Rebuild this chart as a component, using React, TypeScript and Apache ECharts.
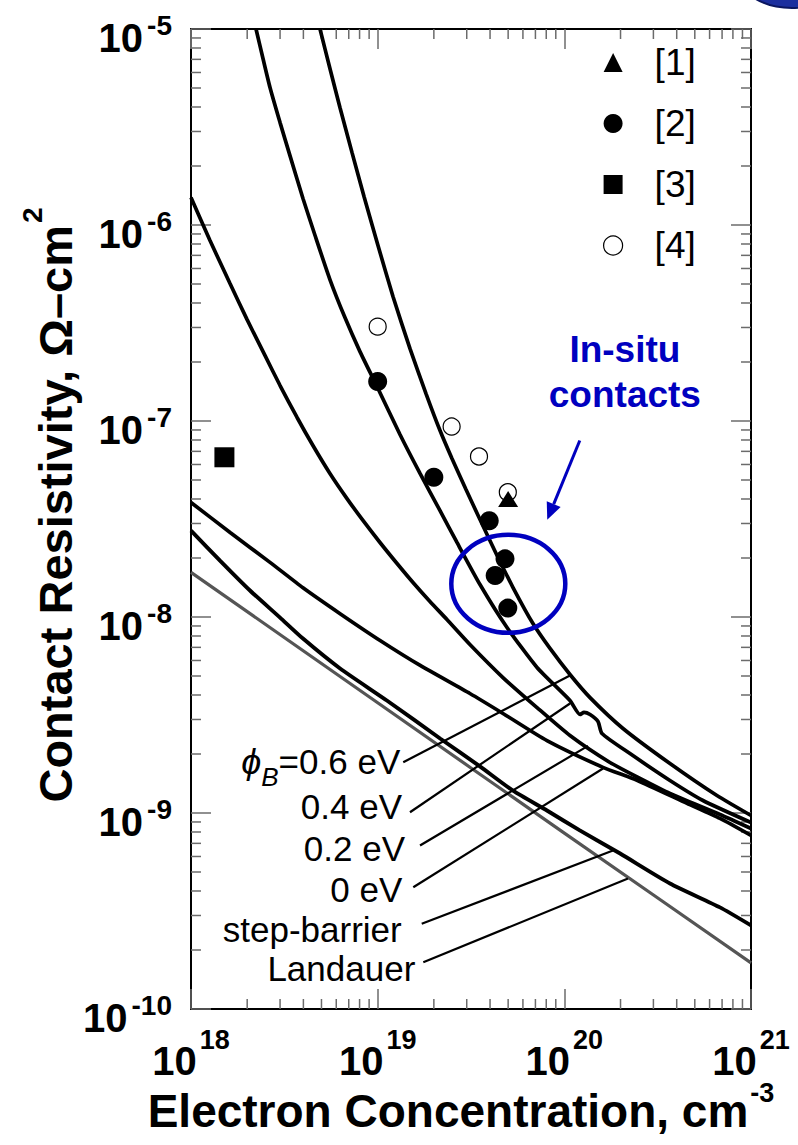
import React, { useEffect, useRef } from 'react';
import * as echarts from 'echarts';

const FONT = "'Liberation Sans', Arial, Helvetica, sans-serif";
const BLUE = '#0000BF';
const TICK = '#6b6b6b';

const X_MIN = 1e18;
const X_MAX = 1e21;
const Y_MIN = 1e-10;
const Y_MAX = 1e-5;

// Theory curves [electron concentration cm^-3, contact resistivity ohm-cm^2]
const phi06: [number, number][] = [
  [4.91e18, 1e-5], [5.55e18, 6.29e-6], [6.28e18, 3.98e-6], [7.29e18, 2.34e-6], [8.45e18, 1.398e-6],
  [1.004e19, 7.86e-7], [1.208e19, 4.32e-7], [1.49e19, 2.34e-7], [1.815e19, 1.381e-7], [2.158e19, 8.94e-8],
  [2.5e19, 6.44e-8], [2.973e19, 4.47e-8], [3.533e19, 3.143e-8], [4.36e19, 2.06e-8], [5.31e19, 1.414e-8],
  [6.79e19, 9.26e-9], [8.38e19, 6.91e-9], [1.072e20, 5.09e-9], [1.373e20, 3.88e-9], [2.062e20, 2.7e-9],
  [3.68e20, 1.789e-9], [6.57e20, 1.228e-9], [1e21, 9.71e-10],
];
const phi04: [number, number][] = [
  [2.23e18, 1e-5], [2.43e18, 7.07e-6], [2.65e18, 5.03e-6], [3.0e18, 3.33e-6], [3.39e18, 2.26e-6],
  [3.98e18, 1.365e-6], [4.62e18, 8.84e-7], [5.55e18, 5.27e-7], [6.68e18, 3.37e-7], [8.04e18, 2.26e-7],
  [9.92e18, 1.5e-7], [1.317e19, 8.53e-8], [1.686e19, 5.4e-8], [2.158e19, 3.49e-8], [2.66e19, 2.4e-8],
  [3.533e19, 1.465e-8], [4.93e19, 8.84e-9], [7.14e19, 5.53e-9], [1.072e20, 3.75e-9], [1.213e20, 3.18e-9],
  [1.274e20, 3.26e-9], [1.373e20, 3.18e-9], [1.515e20, 2.93e-9], [1.591e20, 2.545e-9], [2.247e20, 2.01e-9],
  [3.68e20, 1.465e-9], [5.53e20, 1.158e-9], [1e21, 8.94e-10],
];
const phi02: [number, number][] = [
  [1e18, 1.381e-6], [1.264e18, 8.33e-7], [1.618e18, 5.03e-7], [1.995e18, 3.3e-7], [2.49e18, 2.16e-7],
  [3.0e18, 1.517e-7], [3.7e18, 1.042e-7], [4.5e18, 7.5e-8], [5.55e18, 5.4e-8], [6.85e18, 4.02e-8],
  [8.34e18, 3.11e-8], [1.029e19, 2.4e-8], [1.27e19, 1.875e-8], [1.546e19, 1.5e-8], [1.906e19, 1.2e-8],
  [2.35e19, 9.71e-9], [3.12e19, 7.24e-9], [4.69e19, 4.91e-9], [7.14e19, 3.45e-9], [1.072e20, 2.485e-9],
  [1.756e20, 1.81e-9], [2.543e20, 1.5e-9], [3.68e20, 1.257e-9], [6.82e20, 9.82e-10], [1e21, 8.33e-10],
];
const phi00: [number, number][] = [
  [1e18, 3.84e-8], [1.62e18, 2.7e-8], [2.65e18, 1.9e-8], [3.98e18, 1.41e-8], [6.29e18, 1.04e-8],
  [1.03e19, 7.59e-9], [1.69e19, 5.66e-9], [3.12e19, 4.07e-9], [4.69e19, 3.22e-9], [8.07e19, 2.34e-9],
  [1.61e20, 1.71e-9], [2.45e20, 1.47e-9], [4.54e20, 1.12e-9], [6.82e20, 9.38e-10], [1e21, 7.68e-10],
];
const stepBarrier: [number, number][] = [
  [1e18, 2.76e-8], [1.43e18, 1.94e-8], [2.07e18, 1.365e-8], [3.0e18, 9.93e-9], [3.98e18, 7.76e-9],
  [6.29e18, 5.46e-9], [1.12e19, 3.75e-9], [2.16e19, 2.4e-9], [3.53e19, 1.73e-9], [5.31e19, 1.3e-9],
  [8.07e19, 1.03e-9], [1.21e20, 8.15e-10], [1.99e20, 6.21e-10], [3.68e20, 4.37e-10], [6.82e20, 3.3e-10],
  [1e21, 2.67e-10],
];
const landauer: [number, number][] = [
  [1e18, 1.69e-8], [1e19, 3.65e-9], [1e20, 7.9e-10], [1e21, 1.72e-10],
];

// Experimental points
const ref1: [number, number][] = [[5.0e19, 4.0e-8]];
const ref2: [number, number][] = [
  [1.0e19, 1.59e-7], [2.0e19, 5.16e-8], [3.96e19, 3.1e-8], [4.81e19, 1.98e-8], [4.26e19, 1.63e-8], [4.98e19, 1.11e-8],
];
const ref3: [number, number][] = [[1.51e18, 6.53e-8]];
const ref4: [number, number][] = [
  [1.0e19, 3.03e-7], [2.49e19, 9.37e-8], [3.49e19, 6.59e-8], [4.98e19, 4.33e-8],
];

// Curve labels with leader lines
const leaderLabels = ['{i|ϕ}{sb|B}{n|=0.6 eV}', '0.4 eV', '0.2 eV', '0 eV', 'step-barrier', 'Landauer'];
const leaderStart: [number, number][] = [
  [1.371e19, 1.815e-9], [1.49e19, 1.009e-9], [1.686e19, 6.83e-10], [1.552e19, 4.18e-10], [1.722e19, 2.72e-10], [1.756e19, 1.733e-10],
];
const leaderEnd: [number, number][] = [
  [1.072e20, 5.03e-9], [1.072e20, 3.62e-9], [1.339e20, 2.2e-9], [1.611e20, 1.687e-9], [1.823e20, 6.44e-10], [2.193e20, 4.63e-10],
];
const leaderGap = [3, 8, 15, 11, 20, 8];
const leaderDy = [-1, -6, 3, 2, 6, 6];

// Annotation anchors (data coordinates)
const ellipseCenter: [number, number] = [5.01e19, 1.476e-8];
const arrowFrom: [number, number] = [1.21e20, 7.95e-8];
const arrowTo: [number, number] = [8.1e19, 3.13e-8];
const noteAt: [number, number] = [2.11e20, 1.78e-7];

const minorMult = [2, 3, 4, 5, 6, 7, 8, 9];
const xDecades = [1e18, 1e19, 1e20];
const yDecades = [1e-10, 1e-9, 1e-8, 1e-7, 1e-6];

export default function App() {
  const ref = useRef<HTMLDivElement>(null);
  useEffect(() => {
    document.body.style.margin = '0';
    const chart = echarts.init(ref.current as HTMLDivElement, undefined, { renderer: 'svg' });

    const minorX: number[] = [];
    xDecades.forEach((d) => minorMult.forEach((m) => minorX.push(m * d)));
    const minorY: number[] = [];
    yDecades.forEach((d) => minorMult.forEach((m) => minorY.push(m * d)));

    const expOf = (v: number) => Math.round(Math.log10(v));

    const baseAxisX = (pos: 'bottom' | 'top', showLabel: boolean) => ({
      type: 'log',
      logBase: 10,
      min: X_MIN,
      max: X_MAX,
      position: pos,
      axisLine: { show: true, onZero: false, lineStyle: { color: '#000', width: 2 } },
      axisTick: { show: true, inside: true, length: 20, lineStyle: { color: TICK, width: 1.5 } },
      splitLine: { show: false },
      minorTick: { show: false },
      axisLabel: {
        show: showLabel,
        margin: 32,
        showMinLabel: true,
        showMaxLabel: true,
        formatter: (v: number) => `{b|10}{s|${expOf(v)}}`,
        rich: {
          b: { fontSize: 40, fontWeight: 'bold', lineHeight: 40, color: '#000', fontFamily: FONT },
          s: { fontSize: 27, fontWeight: 'bold', lineHeight: 28, padding: [0, 0, 42, 3], color: '#000', fontFamily: FONT },
        },
      },
    });
    const baseAxisY = (pos: 'left' | 'right', showLabel: boolean) => ({
      type: 'log',
      logBase: 10,
      min: Y_MIN,
      max: Y_MAX,
      position: pos,
      axisLine: { show: true, onZero: false, lineStyle: { color: '#000', width: 2 } },
      axisTick: { show: true, inside: true, length: 20, lineStyle: { color: TICK, width: 1.5 } },
      splitLine: { show: false },
      minorTick: { show: false },
      axisLabel: {
        show: showLabel,
        margin: 19,
        showMinLabel: true,
        showMaxLabel: true,
        formatter: (v: number) => `{b|10}{s|${expOf(v)}}`,
        rich: {
          b: { fontSize: 40, fontWeight: 'bold', lineHeight: 40, padding: [18, 0, 0, 0], color: '#000', fontFamily: FONT },
          s: { fontSize: 28, fontWeight: 'bold', lineHeight: 28, padding: [0, 0, 8, 4], color: '#000', fontFamily: FONT },
        },
      },
    });

    const curve = (name: string, data: [number, number][], color = '#000', width = 3.7) => ({
      type: 'line',
      name,
      data,
      symbol: 'none',
      smooth: 0.2,
      clip: true,
      silent: true,
      z: 3,
      lineStyle: { color, width },
    });

    const leaderSeries = leaderStart.map((s, i) => ({
      type: 'line',
      name: 'leader' + i,
      symbol: 'circle',
      symbolSize: 0,
      showSymbol: true,
      silent: true,
      z: 3,
      lineStyle: { color: '#000', width: 2.2 },
      itemStyle: { color: '#000' },
      data: [
        {
          value: s,
          label: {
            show: true,
            position: 'left',
            distance: leaderGap[i],
            offset: [0, leaderDy[i]],
            formatter: leaderLabels[i],
            fontSize: 35,
            color: '#000',
            fontFamily: FONT,
            rich: {
              i: { fontSize: 36, fontStyle: 'italic', color: '#000', fontFamily: FONT },
              sb: { fontSize: 26, fontStyle: 'italic', padding: [32, 0, 0, 0], color: '#000', fontFamily: FONT },
              n: { fontSize: 35, color: '#000', fontFamily: FONT },
            },
          },
        },
        { value: leaderEnd[i], label: { show: false } },
      ],
    }));

    const tickLine = (x1: number, y1: number, x2: number, y2: number) => ({
      type: 'line',
      shape: { x1, y1, x2, y2 },
      style: { stroke: TICK, lineWidth: 1.5 },
    });

    const option: any = {
      animation: false,
      backgroundColor: '#fff',
      textStyle: { fontFamily: FONT },
      grid: { left: 191, right: 47, top: 28.5, bottom: 136, containLabel: false },
      xAxis: [baseAxisX('bottom', true), baseAxisX('top', false)],
      yAxis: [baseAxisY('left', true), baseAxisY('right', false)],
      legend: {
        data: [
          { name: '[1]', icon: 'triangle', itemStyle: { color: '#000', opacity: 1 } },
          { name: '[2]', icon: 'circle', itemStyle: { color: '#000', opacity: 1 } },
          { name: '[3]', icon: 'rect', itemStyle: { color: '#000', opacity: 1 } },
          { name: '[4]', icon: 'circle', itemStyle: { color: '#fff', borderColor: '#000', borderWidth: 1.2, opacity: 1 } },
        ],
        orient: 'vertical',
        left: 603,
        top: 44,
        padding: 0,
        itemWidth: 19,
        itemHeight: 19,
        itemGap: 24,
        selectedMode: false,
        textStyle: { fontSize: 37, lineHeight: 36, color: '#000', fontFamily: FONT, padding: [0, 0, 0, 27] },
      },
      series: [
        {
          type: 'custom',
          name: 'minorX',
          coordinateSystem: 'cartesian2d',
          clip: false,
          silent: true,
          z: 1,
          encode: { x: 0, y: 1 },
          data: minorX.map((v) => [v, Y_MIN]),
          renderItem: (_p: any, api: any) => {
            const v = api.value(0);
            const b = api.coord([v, Y_MIN]);
            const t = api.coord([v, Y_MAX]);
            return {
              type: 'group',
              children: [tickLine(b[0], b[1], b[0], b[1] - 10), tickLine(t[0], t[1], t[0], t[1] + 10)],
            };
          },
        },
        {
          type: 'custom',
          name: 'minorY',
          coordinateSystem: 'cartesian2d',
          clip: false,
          silent: true,
          z: 1,
          encode: { x: 0, y: 1 },
          data: minorY.map((v) => [X_MIN, v]),
          renderItem: (_p: any, api: any) => {
            const v = api.value(1);
            const l = api.coord([X_MIN, v]);
            const r = api.coord([X_MAX, v]);
            return {
              type: 'group',
              children: [tickLine(l[0], l[1], l[0] + 10, l[1]), tickLine(r[0], r[1], r[0] - 10, r[1])],
            };
          },
        },
        curve('Landauer', landauer, '#555', 3.2),
        curve('step-barrier', stepBarrier, '#000', 3.9),
        curve('0 eV', phi00),
        curve('0.2 eV', phi02),
        curve('0.4 eV', phi04),
        curve('0.6 eV', phi06),
        ...leaderSeries,
        {
          type: 'scatter', name: '[4]', data: ref4, symbol: 'circle', symbolSize: 17, z: 5,
          itemStyle: { color: '#fff', borderColor: '#000', borderWidth: 1.2, opacity: 1 },
        },
        {
          type: 'scatter', name: '[2]', data: ref2, symbol: 'circle', symbolSize: 19, z: 5,
          itemStyle: { color: '#000', opacity: 1 },
        },
        {
          type: 'scatter', name: '[3]', data: ref3, symbol: 'rect', symbolSize: 20, z: 5,
          itemStyle: { color: '#000', opacity: 1 },
        },
        {
          type: 'scatter', name: '[1]', data: ref1, symbol: 'triangle', symbolSize: [20, 16], z: 6,
          itemStyle: { color: '#000', opacity: 1 },
        },
      ],
    };

    chart.setOption(option);

    const px = (p: [number, number]) => chart.convertToPixel({ gridIndex: 0 }, p) as number[];
    const ec = px(ellipseCenter);
    const a0 = px(arrowFrom);
    const a1 = px(arrowTo);
    const nt = px(noteAt);
    const dx = a1[0] - a0[0];
    const dy = a1[1] - a0[1];
    const len = Math.hypot(dx, dy);
    const ux = dx / len;
    const uy = dy / len;
    const HL = 17;
    const HW = 7.5;
    const bx = a1[0] - ux * HL;
    const by = a1[1] - uy * HL;

    chart.setOption({
      graphic: [
        {
          type: 'ellipse', z: 10, silent: true,
          shape: { cx: ec[0], cy: ec[1], rx: 57, ry: 49 },
          style: { fill: 'none', stroke: BLUE, lineWidth: 4.5 },
        },
        {
          type: 'line', z: 10, silent: true,
          shape: { x1: a0[0], y1: a0[1], x2: bx, y2: by },
          style: { stroke: BLUE, lineWidth: 3 },
        },
        {
          type: 'polygon', z: 10, silent: true,
          shape: { points: [[a1[0], a1[1]], [bx - uy * HW, by + ux * HW], [bx + uy * HW, by - ux * HW]] },
          style: { fill: BLUE },
        },
        {
          type: 'text', z: 10, silent: true, x: nt[0], y: nt[1],
          style: {
            text: 'In-situ\ncontacts', align: 'center', verticalAlign: 'middle',
            fontSize: 37, fontWeight: 'bold', fontFamily: FONT, fill: BLUE, lineHeight: 45,
          },
        },
        {
          type: 'text', z: 10, silent: true, x: 461, y: 1111,
          style: {
            text: '{m|Electron Concentration, cm}{s|-3}', align: 'center', verticalAlign: 'middle', fill: '#000',
            rich: {
              m: { fontSize: 46, fontWeight: 'bold', fontFamily: FONT, fill: '#000' },
              s: { fontSize: 27, fontWeight: 'bold', fontFamily: FONT, fill: '#000', padding: [0, 0, 36, 2] },
            },
          },
        },
        {
          type: 'text', z: 10, silent: true, x: 55, y: 505, rotation: Math.PI / 2,
          style: {
            text: '{m|Contact Resistivity, Ω–cm}{s|2}', align: 'center', verticalAlign: 'middle', fill: '#000',
            rich: {
              m: { fontSize: 47, fontWeight: 'bold', fontFamily: FONT, fill: '#000' },
              s: { fontSize: 28, fontWeight: 'bold', fontFamily: FONT, fill: '#000', padding: [0, 0, 46, 2] },
            },
          },
        },
        {
          type: 'ellipse', z: 10, silent: true,
          shape: { cx: 792, cy: -24, rx: 52, ry: 32 },
          style: { fill: '#1c2f9e', stroke: '#0b1660', lineWidth: 2 },
        },
      ],
    });

    return () => chart.dispose();
  }, []);

  return <div ref={ref} style={{ width: 798, height: 1145 }} />;
}
